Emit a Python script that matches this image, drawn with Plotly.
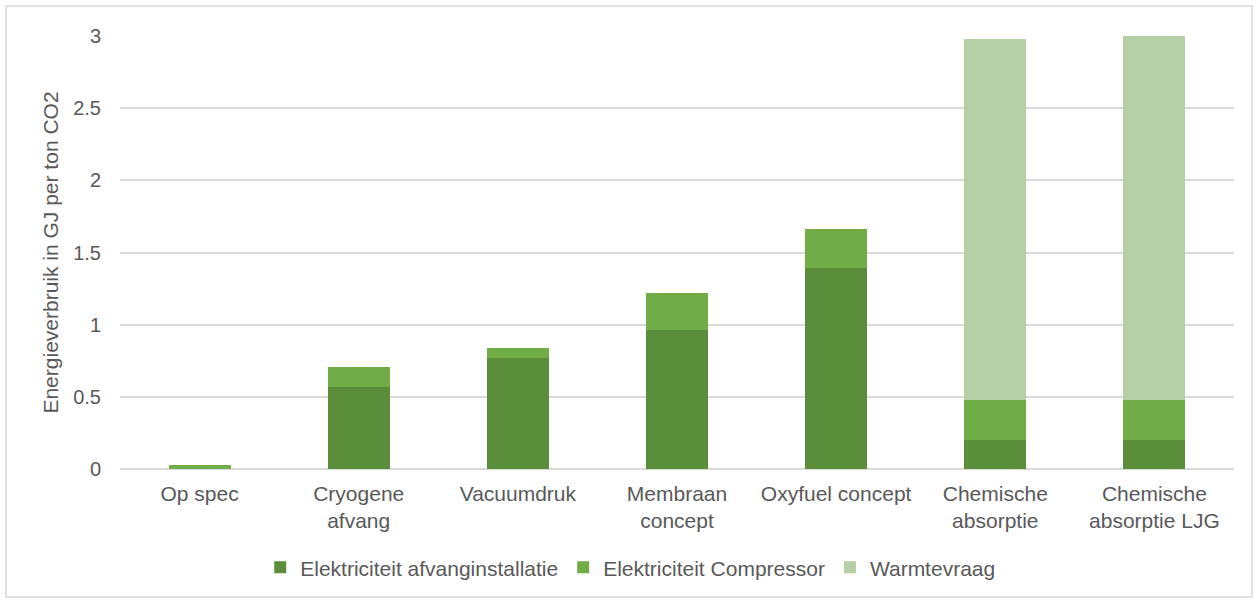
import plotly.graph_objects as go

categories = ["Op spec", "Cryogene<br>afvang", "Vacuumdruk", "Membraan<br>concept",
              "Oxyfuel concept", "Chemische<br>absorptie", "Chemische<br>absorptie LJG"]
afvang = [0.0, 0.57, 0.77, 0.96, 1.39, 0.20, 0.20]
compressor = [0.03, 0.14, 0.07, 0.26, 0.27, 0.28, 0.28]
warmte = [0.0, 0.0, 0.0, 0.0, 0.0, 2.50, 2.52]
series_names = ["Elektriciteit afvanginstallatie", "Elektriciteit Compressor", "Warmtevraag"]
colors = ["#5A8E3A", "#70AD47", "#B5CFA6"]
y_ticks = [0, 0.5, 1, 1.5, 2, 2.5, 3]
y_ticklabels = ["0", "0.5", "1", "1.5", "2", "2.5", "3"]

fig = go.Figure()
for name, vals, col in zip(series_names, [afvang, compressor, warmte], colors):
    fig.add_trace(go.Bar(x=categories, y=vals, name=name, marker_color=col,
                         marker_line_width=0, width=0.39))

font_family = "Liberation Sans, Arial, sans-serif"
fig.update_layout(
    barmode="stack",
    width=1258, height=601,
    margin=dict(l=120, r=24, t=36, b=132),
    plot_bgcolor="white", paper_bgcolor="white",
    font=dict(family=font_family, size=21, color="#595959"),
    legend=dict(orientation="h", x=0.458, xanchor="center", y=-0.228, yanchor="middle",
                font=dict(size=21, color="#595959"), traceorder="normal"),
    xaxis=dict(showgrid=False, ticks="", showline=False, tickfont=dict(size=21),
               ticklabelstandoff=10),
    yaxis=dict(range=[0, 3], tickvals=y_ticks, ticktext=y_ticklabels, showgrid=True,
               gridcolor="#D9D9D9", gridwidth=1.5, zeroline=True, zerolinecolor="#D9D9D9",
               zerolinewidth=1.5, ticks="", ticklabelstandoff=18,
               title=dict(text="Energieverbruik in GJ per ton CO2", font=dict(size=21), standoff=8),
               tickfont=dict(size=20)),
    shapes=[dict(type="rect", xref="paper", yref="paper", x0=-0.1023, x1=1.0162,
                 y0=-0.2956, y1=1.0693, line=dict(color="#D9D9D9", width=1.5))],
)
fig.write_html("out.html", config={"displayModeBar": False},
               post_script="document.body.style.margin='0';")
